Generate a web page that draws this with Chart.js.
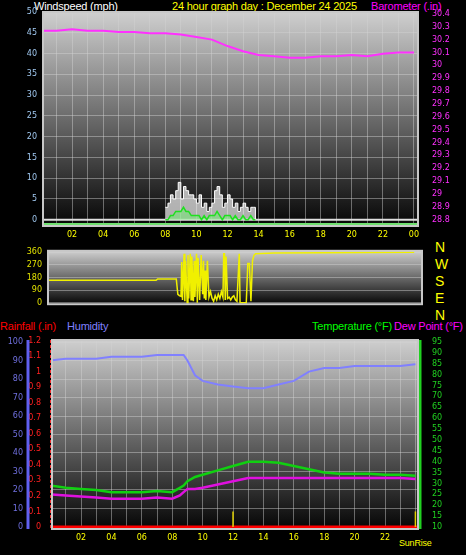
<!DOCTYPE html>
<html><head><meta charset="utf-8">
<script src="https://cdn.jsdelivr.net/npm/chart.js@4/dist/chart.umd.min.js"></script>
<style>
body{margin:0;background:#000;width:466px;height:555px;position:relative;overflow:hidden;font-family:"Liberation Sans",Arial,sans-serif}
canvas{position:absolute;left:0}
.t{position:absolute;font-size:11px;white-space:nowrap;line-height:12px;letter-spacing:-0.2px}
</style></head><body>
<div class="t" style="left:34px;top:0;color:#fff">Windspeed (mph)</div>
<div class="t" style="left:172px;top:0;color:#ff0">24 hour graph day : December 24 2025</div>
<div class="t" style="left:371px;top:0;color:#f0f">Barometer (.in)</div>
<div class="t" style="left:0;top:320px;color:#f00">Rainfall (.in)</div>
<div class="t" style="left:67px;top:320px;color:#8080ff">Humidity</div>
<div class="t" style="left:312px;top:320px;color:#0f0">Temperature (°F)</div>
<div class="t" style="left:394px;top:320px;color:#f0f">Dew Point (°F)</div>
<div class="t" style="left:435px;top:239px;color:#ff0;font-size:14px;line-height:17px">N<br>W<br>S<br>E<br>N</div>
<div class="t" style="left:399px;top:537px;color:#ff0;font-size:9px">SunRise</div>
<canvas id="c1" width="466" height="240" style="top:0"></canvas>
<canvas id="c2" width="466" height="75" style="top:240px"></canvas>
<canvas id="c3" width="466" height="235" style="top:320px"></canvas>
<script>
const hours=[0,1,2,3,4,5,6,7,8,9,10,11,12,13,14,15,16,17,18,19,20,21,22,23,24];
const baro=[30.27,30.27,30.28,30.27,30.27,30.26,30.26,30.25,30.25,30.24,30.22,30.2,30.15,30.11,30.08,30.07,30.06,30.06,30.07,30.07,30.08,30.07,30.09,30.10,30.10];
const windTimes=[8,8.17,8.33,8.5,8.67,8.83,9,9.17,9.33,9.5,9.67,9.83,10,10.17,10.33,10.5,10.67,10.83,11,11.17,11.33,11.5,11.67,11.83,12,12.17,12.33,12.5,12.67,12.83,13,13.17,13.33,13.5,13.67,13.8];
const gust=[3,4,6,5,7,9,5,8,7,6,6,5,4,6,3,4,2,3,4,7,8,6,3,4,6,5,3,4,2,3,4,3,2,3,3,0];
const avgWind=[0,0,1,1,2,2,2,3,2,2,1,1,1,1,0,1,0,1,1,1,2,1,0,1,1,1,0,1,0,0,1,0,0,1,0,0];
const dirTimes=[0,7.4,7.5,8.7,8.8,8.9,9,9.05,9.1,9.2,9.25,9.3,9.4,9.45,9.5,9.6,9.65,9.7,9.8,9.85,9.9,10,10.05,10.1,10.2,10.3,10.4,10.45,10.5,10.55,10.6,10.7,10.8,10.9,11,11.1,11.2,11.3,11.4,11.5,11.6,11.7,11.75,11.8,11.85,11.9,12,12.1,12.2,12.3,12.4,12.5,12.6,12.75,12.8,13.2,13.3,13.4,13.5,13.6,13.7,13.8,15,24];
const dirVals=[160,160,170,170,60,50,45,290,20,350,10,300,0,340,30,350,20,330,10,300,40,350,0,320,20,340,60,300,30,230,20,300,40,80,30,10,50,20,60,30,80,40,350,350,20,330,30,40,20,40,50,20,10,350,0,0,280,280,10,300,340,350,355,360];
const climTimes=[0,1,2,3,4,5,6,7,8,8.5,8.75,9,9.5,10,11,12,13,14,15,16,17,18,19,20,21,22,23,24];
const humidity=[90,91,91,91,92,92,92,93,93,93,93,90,82,79,77,76,75,75,77,79,84,86,86,87,87,87,87,88];
const temperature=[29,28,27.5,27,26,26,26,26.5,26,28,29,31,33,34,36,38,40,40,39.5,38,36.5,35,34.5,34.5,34.5,34,34,33.5];
const dewpoint=[25,24.5,24,23.5,23,23,23,23.5,23,24.5,26,27.5,27.5,28,29.5,31,32.5,32.5,32.5,32.5,32.5,32.5,32.5,32.5,32.5,32.5,32.5,32];
const rain=[0,0];const rainTimes=[0,24.2];
const sunMarks=[12,24];
const xTicks=[];for(let h=1;h<=24;h++)xTicks.push(h);
const pts=(t,v)=>t.map((x,i)=>({x:x,y:v[i]}));
const font={family:'DejaVu Sans',size:8};
const bg={id:'bg',beforeDraw(c){const a=c.chartArea,x=c.ctx;const g=x.createLinearGradient(0,a.top,0,a.bottom);g.addColorStop(0,'#cfcfcf');g.addColorStop(1,'#050505');x.save();x.fillStyle=g;x.fillRect(a.left,a.top,a.right-a.left,a.bottom-a.top);x.restore();},
 afterDraw(c){const a=c.chartArea,x=c.ctx;x.save();x.strokeStyle='#c8c8c8';x.lineWidth=2;x.strokeRect(a.left,a.top,a.right-a.left,a.bottom-a.top);x.restore();}};
const grid={color:'rgba(210,210,210,0.45)',borderDash:[1,2],drawTicks:false};
function xAxis(min,max,h,show){return {type:'linear',min,max,display:show,afterBuildTicks:s=>{s.ticks=xTicks.map(v=>({value:v}))},
 afterFit:s=>{s.height=h},ticks:{autoSkip:false,maxRotation:0,minRotation:0,color:'#ff0',font,padding:4,callback:v=>(v%2===0&&v<24)?String(v).padStart(2,'0'):(v===24&&h<20?'00':'')},grid,border:{display:false}};}
function yAxis(pos,min,max,ticks,w,color,pad){return {position:pos,min,max,afterBuildTicks:s=>{s.ticks=ticks.map(v=>({value:v}))},afterFit:s=>{s.width=w},
 ticks:{color,font,padding:pad||6,autoSkip:false,callback:v=>String(+v.toFixed(2))},grid:{display:false},border:{display:false}};}
const base={responsive:false,animation:false,plugins:{legend:{display:false},tooltip:{enabled:false}},elements:{point:{radius:0}}};
const r=(a,b,s)=>{const o=[];for(let v=a;v<=b+1e-9;v+=s)o.push(+v.toFixed(2));return o;};

new Chart(c1,{type:'line',plugins:[bg],data:{datasets:[
 {data:pts(hours,baro),yAxisID:'yb',borderColor:'#ff30ff',borderWidth:2},
 {data:pts(windTimes,avgWind),yAxisID:'y',borderColor:'#20e020',backgroundColor:'rgba(120,230,120,0.6)',fill:'origin',borderWidth:1.5},
 {data:pts(windTimes,gust),yAxisID:'y',borderColor:'#ffffff',backgroundColor:'rgba(245,245,245,0.7)',fill:'origin',stepped:true,borderWidth:1},
 {data:pts([0.13,24.26],[0,0]),yAxisID:'y',borderColor:'#e0e0e0',borderWidth:2},
 {data:pts([0.13,24.26],[-1,-1]),yAxisID:'y',borderColor:'#70e070',borderWidth:2}
]},options:Object.assign({},base,{layout:{padding:{top:12,left:0,right:0,bottom:0}},scales:{
 x:xAxis(0.13,24.26,14,true),
 y:Object.assign(yAxis('left',-1.5,50,r(0,50,5),43,'#a0c8f0'),{grid}),
 yb:yAxis('right',28.75,30.415,r(28.8,30.4,0.1),48,'#ff30ff')
}})});

new Chart(c2,{type:'line',plugins:[bg],data:{datasets:[
 {data:pts(dirTimes,dirVals),borderColor:'#f0f000',borderWidth:1.5}
]},options:Object.assign({},base,{layout:{padding:{top:5,left:0,right:44,bottom:3}},scales:{
 x:xAxis(0.45,24.5,0,false),
 y:Object.assign(yAxis('left',-11,371,[0,90,180,270,360],48,'#e0e000'),{grid})
}})});

const sunPlugin={id:'sun',afterDatasetsDraw(c){const x=c.ctx,sx=c.scales.x,sy=c.scales.yr;x.save();x.strokeStyle='#e0d000';x.lineWidth=1.5;
 sunMarks.forEach(t=>{const px=sx.getPixelForValue(t);x.beginPath();x.moveTo(px,sy.getPixelForValue(0));x.lineTo(px,sy.getPixelForValue(0.1));x.stroke();});
 const a=c.chartArea;x.lineWidth=3;x.strokeStyle='#6060f0';x.beginPath();x.moveTo(28,a.top);x.lineTo(28,a.bottom);x.stroke();
 x.lineWidth=2;x.strokeStyle='#f03030';x.setLineDash([3,2]);x.beginPath();x.moveTo(51,a.top);x.lineTo(51,a.bottom);x.stroke();x.setLineDash([]);
 x.lineWidth=3;x.strokeStyle='#20d020';x.beginPath();x.moveTo(a.right+2,a.top);x.lineTo(a.right+2,a.bottom);x.stroke();x.restore();}};
new Chart(c3,{type:'line',plugins:[bg,sunPlugin],data:{datasets:[
 {data:pts(climTimes,humidity),yAxisID:'yh',borderColor:'#8080ff',borderWidth:2},
 {data:pts(climTimes,temperature),yAxisID:'yt',borderColor:'#10d010',borderWidth:2.5},
 {data:pts(climTimes,dewpoint),yAxisID:'yt',borderColor:'#e010e0',borderWidth:2.5},
 {data:pts(rainTimes,rain),yAxisID:'yr',borderColor:'#ff0000',borderWidth:3}
]},options:Object.assign({},base,{layout:{padding:{top:20,left:0,right:0,bottom:0}},scales:{
 x:xAxis(0.09,24.17,26,true),
 yr:yAxis('left',-0.013,1.203,r(0,1.2,0.1),26,'#ff2020',3),
 yh:Object.assign(yAxis('left',-1.1,101.1,r(0,100,10),26,'#7070e0',3),{grid}),
 yt:yAxis('right',9.08,95.9,r(10,95,5),48,'#20d020')
}})});
</script></body></html>
